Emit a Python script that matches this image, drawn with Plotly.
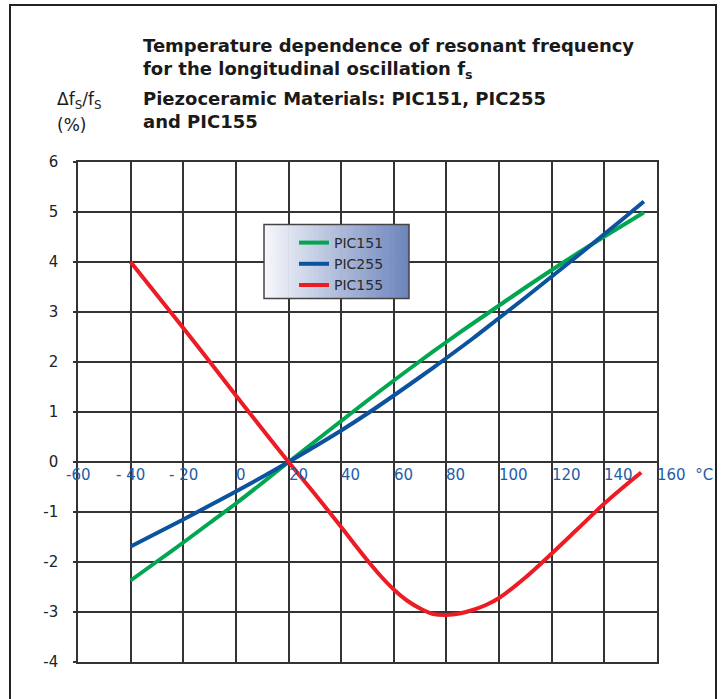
import plotly.graph_objects as go

# ---------------- data ----------------
temp_151 = [-40, -30, -20, -10, 0, 10, 20, 30, 40, 50, 60, 70, 80, 90, 100, 110, 120, 130, 140, 150, 155]
pic151 = [-2.37, -1.99, -1.61, -1.22, -0.83, -0.42, 0.0, 0.41, 0.82, 1.23, 1.63, 2.02, 2.40, 2.77, 3.13, 3.49, 3.84, 4.18, 4.51, 4.83, 4.99]

temp_255 = [-40, -30, -20, -10, 0, 10, 20, 30, 40, 50, 60, 70, 80, 90, 100, 110, 120, 130, 140, 150, 155]
pic255 = [-1.69, -1.42, -1.15, -0.87, -0.59, -0.30, 0.0, 0.31, 0.63, 0.97, 1.33, 1.70, 2.08, 2.47, 2.88, 3.29, 3.71, 4.13, 4.56, 4.99, 5.21]

temp_155 = [-40, -30, -20, -10, 0, 10, 20, 30, 40, 45, 50, 55, 60, 65, 70, 75, 80, 85, 90, 95, 100, 110, 120, 130, 140, 150, 154]
pic155 = [4.00, 3.34, 2.68, 2.01, 1.33, 0.66, 0.0, -0.64, -1.30, -1.64, -1.97, -2.28, -2.55, -2.77, -2.93, -3.04, -3.06, -3.03, -2.96, -2.86, -2.72, -2.31, -1.83, -1.33, -0.83, -0.38, -0.21]

x_ticks = [-60, -40, -20, 0, 20, 40, 60, 80, 100, 120, 140, 160]
x_tick_labels = ["-60", "- 40", "- 20", "0", "20", "40", "60", "80", "100", "120", "140", "160  \u00b0C"]
y_ticks = [-4, -3, -2, -1, 0, 1, 2, 3, 4, 5, 6]
y_tick_labels = ["-4", "-3", "-2", "-1", "0", "1", "2", "3", "4", "5", "6"]

series_names = ["PIC151", "PIC255", "PIC155"]
series_colors = ["#00a650", "#0b529f", "#ed1c24"]

title_lines = [
    "Temperature dependence of resonant frequency",
    "for the longitudinal oscillation f<sub>s</sub>",
    "Piezoceramic Materials: PIC151, PIC255",
    "and PIC155",
]
ylabel_lines = ["\u0394f<sub>S</sub>/f<sub>S</sub>", "(%)"]

# ---------------- layout helpers ----------------
W, H = 725, 699
L, R, T, B = 78, 68, 162, 37
PW, PH = W - L - R, H - T - B


def px(p):
    return (p - L) / PW


def py(p):
    return (H - B - p) / PH


FONT = "DejaVu Sans"
GRID = "#333333"

fig = go.Figure()
for xs, ys, name, col in zip([temp_151, temp_255, temp_155], [pic151, pic255, pic155], series_names, series_colors):
    fig.add_trace(go.Scatter(x=xs, y=ys, name=name, mode="lines",
                             line=dict(color=col, width=4, shape="spline", smoothing=0.8)))

shapes = []
# outer frame
shapes.append(dict(type="rect", xref="paper", yref="paper", x0=px(10), x1=px(716), y0=py(720), y1=py(5),
                   line=dict(color="#222222", width=2), fillcolor="rgba(0,0,0,0)", layer="above"))
# legend box with gradient
lx0, lx1, ly0, ly1 = 264, 409, 224.5, 298.5
c0 = (246, 247, 251)
c1 = (108, 132, 188)
n = 60
for i in range(n):
    t = i / (n - 1)
    c = tuple(int(round(c0[k] + (c1[k] - c0[k]) * t)) for k in range(3))
    xa = lx0 + (lx1 - lx0) * i / n
    xb = lx0 + (lx1 - lx0) * (i + 1) / n + 0.6
    shapes.append(dict(type="rect", xref="paper", yref="paper", x0=px(xa), x1=px(min(xb, lx1)),
                       y0=py(ly1), y1=py(ly0), line=dict(width=0),
                       fillcolor="rgb(%d,%d,%d)" % c, layer="above"))
shapes.append(dict(type="rect", xref="paper", yref="paper", x0=px(lx0), x1=px(lx1), y0=py(ly1), y1=py(ly0),
                   line=dict(color="#444444", width=1.5), fillcolor="rgba(0,0,0,0)", layer="above"))

annotations = []
for v, lab in zip(x_ticks, x_tick_labels):
    annotations.append(dict(x=v, y=0, xref="x", yref="y", text=lab, showarrow=False,
                            xanchor="center" if v < 0 else "left", yanchor="top",
                            xshift=0 if v < 0 else -2, yshift=-2,
                            font=dict(family=FONT, size=15, color="#1d5ea8")))

title_y = [45, 70, 98, 122]
for txt, yy in zip(title_lines, title_y):
    annotations.append(dict(x=px(141), y=py(yy), xref="paper", yref="paper", text="<b>%s</b>" % txt,
                            showarrow=False, xanchor="left", yanchor="middle",
                            font=dict(family=FONT, size=18, color="#1a1a1a")))
for txt, yy in zip(ylabel_lines, [101, 125]):
    annotations.append(dict(x=px(55), y=py(yy), xref="paper", yref="paper", text=txt,
                            showarrow=False, xanchor="left", yanchor="middle",
                            font=dict(family=FONT, size=17, color="#1a1a1a")))

fig.update_layout(
    width=W, height=H,
    margin=dict(l=L, r=R, t=T, b=B, pad=0),
    paper_bgcolor="white", plot_bgcolor="white",
    showlegend=True,
    legend=dict(x=px(294), y=py(227), xanchor="left", yanchor="top",
                bgcolor="rgba(0,0,0,0)", borderwidth=0,
                font=dict(family=FONT, size=14, color="#2a2a2a")),
    shapes=shapes,
    annotations=annotations,
    xaxis=dict(range=[-60, 160], tickvals=x_ticks, showticklabels=False, showgrid=True,
               gridcolor=GRID, gridwidth=1.6, zeroline=False, showline=True, mirror=True,
               linecolor=GRID, linewidth=1.6, ticks=""),
    yaxis=dict(range=[-4, 6], tickvals=y_ticks, ticktext=y_tick_labels, showgrid=True,
               gridcolor=GRID, gridwidth=1.6, zeroline=True, zerolinecolor=GRID, zerolinewidth=1.6,
               showline=True, mirror=True, linecolor=GRID, linewidth=1.6,
               ticks="outside", ticklen=3, tickcolor=GRID, tickwidth=1.6, ticklabelstandoff=12,
               tickfont=dict(family=FONT, size=15, color="#222222")),
)

fig.write_html("out.html", config={"displayModeBar": False},
               post_script="document.body.style.margin='0';")
